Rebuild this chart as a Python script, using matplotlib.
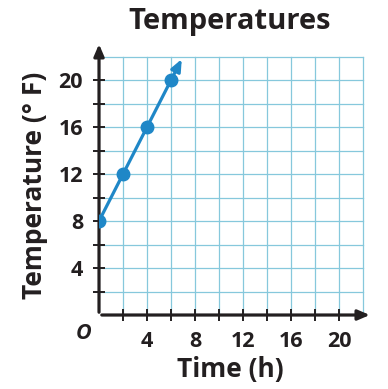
import matplotlib.pyplot as plt
import numpy as np

# Data
time_h = [0, 2, 4, 6]
temps_f = [8, 12, 16, 20]
x_ticks = [4, 8, 12, 16, 20]
y_ticks = [4, 8, 12, 16, 20]

blue = '#1f87c7'
grid_col = '#86c8dc'
font = 'Open Sans'
tick_font = dict(fontfamily=font, fontweight='bold', fontsize=15.5, color='#231f20')

fig = plt.figure(figsize=(3.88, 3.89), dpi=100)
ax = fig.add_axes([0.2552, 0.1902, 0.7113, 0.7095])
ax.set_xlim(0, 23)
ax.set_ylim(0, 23.5)

# grid every 2 units, up to 22
for g in range(2, 23, 2):
    ax.plot([g, g], [0, 22], color=grid_col, lw=0.9, zorder=1)
    ax.plot([0, 22], [g, g], color=grid_col, lw=0.9, zorder=1)

for s in ax.spines.values():
    s.set_visible(False)

# axes with arrow heads
ax.annotate('', xy=(22.8, 0), xytext=(0, 0),
            arrowprops=dict(arrowstyle='-|>,head_length=0.7,head_width=0.3', lw=2.3, color='#231f20'),
            annotation_clip=False, zorder=3)
ax.annotate('', xy=(0, 23.3), xytext=(0, 0),
            arrowprops=dict(arrowstyle='-|>,head_length=0.7,head_width=0.3', lw=2.3, color='#231f20'),
            annotation_clip=False, zorder=3)

# tick marks every 2, labels every 4
minor = np.arange(2, 21, 2)
ax.set_xticks(minor)
ax.set_yticks(minor)
ax.set_xticklabels([str(v) if v in x_ticks else '' for v in minor], **tick_font)
ax.set_yticklabels([str(v) if v in y_ticks else '' for v in minor], **tick_font)
ax.tick_params(direction='inout', length=9, width=1.4, color='#231f20', pad=7)

# data line + extension arrow
ax.plot(time_h, temps_f, color=blue, lw=2.3, marker='o', markersize=9, zorder=4)
dx = (time_h[-1] - time_h[-2]) / 2
dy = (temps_f[-1] - temps_f[-2]) / 2
ax.annotate('', xy=(time_h[-1] + dx, temps_f[-1] + dy), xytext=(time_h[-1], temps_f[-1]),
            arrowprops=dict(arrowstyle='-|>,head_length=0.7,head_width=0.3', lw=2.3, color=blue),
            annotation_clip=False, zorder=4)

ax.text(-1.3, -1.6, 'O', fontfamily=font, fontweight='bold', fontstyle='italic',
        fontsize=15.5, ha='center', va='center', color='#231f20')

fig.text(0.593, 0.925, 'Temperatures', fontfamily=font, fontweight='bold', fontsize=21,
         ha='center', va='baseline', color='#231f20')
fig.text(0.593, 0.03, 'Time (h)', fontfamily=font, fontweight='bold', fontsize=19,
         ha='center', va='baseline', color='#231f20')
fig.text(0.09, 0.524, 'Temperature (° F)', fontfamily=font, fontweight='bold', fontsize=19,
         ha='center', va='center', rotation=90, color='#231f20')

fig.savefig('out.png', dpi=100)
